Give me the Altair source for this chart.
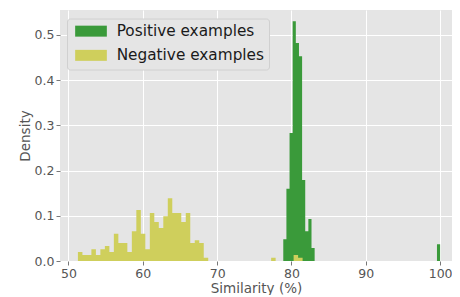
import altair as alt
import numpy as np
import pandas as pd

# ---- data ----
series_names = ["Positive examples", "Negative examples"]
series_colors = ["#3a9a3a", "#cfcf5c"]

# histogram ranges (min, max of each sample) and 50-bin densities
pos_range = [78.9, 100.0]
pos_density = [0.048, 0.160, 0.283, 0.530, 0.482, 0.453, 0.179, 0.066, 0.093, 0.029,
               0, 0, 0, 0, 0, 0, 0, 0, 0, 0,
               0, 0, 0, 0, 0, 0, 0, 0, 0, 0,
               0, 0, 0, 0, 0, 0, 0, 0, 0, 0,
               0, 0, 0, 0, 0, 0, 0, 0, 0, 0.037]

neg_range = [51.27, 81.5]
neg_density = [0.020, 0.013, 0.013, 0.026, 0.013, 0.026, 0.033, 0.020, 0.060, 0.040,
               0.040, 0.020, 0.066, 0.113, 0.060, 0.026, 0.106, 0.086, 0.073, 0.099,
               0.139, 0.106, 0.106, 0.086, 0.106, 0.040, 0.046, 0.040, 0.007, 0,
               0, 0, 0, 0, 0, 0, 0, 0, 0, 0,
               0, 0, 0, 0.007, 0, 0, 0, 0, 0.013, 0.007]

x_ticks = [50, 60, 70, 80, 90, 100]
y_ticks = [0.0, 0.1, 0.2, 0.3, 0.4, 0.5]
x_domain = [48.86, 101.6]
y_domain = [0, 0.555]


def step_rows(name, rng, dens):
    """Histogram outline as step points: one per bin left edge, plus the closing edge."""
    edges = np.linspace(rng[0], rng[1], len(dens) + 1)
    rows = [{"series": name, "edge": edges[i], "density": d} for i, d in enumerate(dens)]
    rows.append({"series": name, "edge": edges[-1], "density": 0.0})
    return rows


df = pd.DataFrame(step_rows(series_names[0], pos_range, pos_density)
                  + step_rows(series_names[1], neg_range, neg_density))

FONT = "DejaVu Sans"

color = alt.Color(
    "series:N",
    scale=alt.Scale(domain=series_names, range=series_colors),
    legend=alt.Legend(
        title=None, orient="none", legendX=7, legendY=8.5,
        fillColor="#E5E5E5", strokeColor="#d0d0d0", cornerRadius=3,
        padding=5,
        symbolType="M-3.52,-1.22H3.52V1.22H-3.52Z", symbolSize=81, symbolOffset=11.35,
        symbolStrokeWidth=0, symbolOpacity=1,
        labelFontSize=15.3, labelFont=FONT, labelColor="#1a1a1a",
        labelOffset=18, rowPadding=8.2),
)

base = alt.Chart(df).mark_area(interpolate="step-after", strokeWidth=0, opacity=1).encode(
    x=alt.X("edge:Q", scale=alt.Scale(domain=x_domain, nice=False, zero=False),
            axis=alt.Axis(values=x_ticks, title="Similarity (%)", format="d")),
    y=alt.Y("density:Q", scale=alt.Scale(domain=y_domain, nice=False), stack=None,
            axis=alt.Axis(values=y_ticks, format=".1f", title="Density")),
    y2=alt.datum(0),
    color=color,
)

pos_layer = base.transform_filter(alt.datum.series == series_names[0])
neg_layer = base.transform_filter(alt.datum.series == series_names[1])

chart = alt.layer(pos_layer, neg_layer).properties(
    width=444, height=287,
    autosize=alt.AutoSizeParams(type="fit", contains="padding"),
    padding={"left": 10, "top": 2, "right": 0, "bottom": 0},
).configure_view(
    fill="#E5E5E5", strokeWidth=0
).configure_axis(
    domain=False, grid=True, gridColor="#ffffff", gridWidth=1,
    tickColor="#555555", tickSize=4, tickWidth=0.8,
    labelColor="#555555", labelFont=FONT, labelFontSize=12.5, labelPadding=2,
    titleColor="#555555", titleFont=FONT, titleFontSize=13.5,
    titleFontWeight="normal", titlePadding=2,
)

chart.save("out.html", embed_options={"renderer": "svg", "actions": False})
